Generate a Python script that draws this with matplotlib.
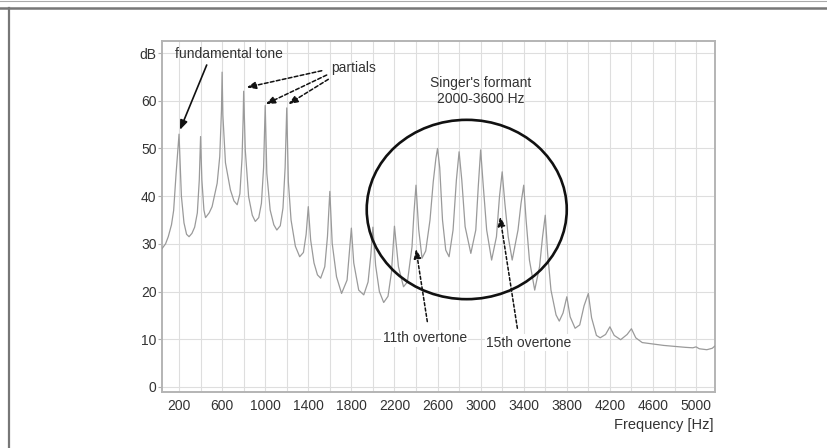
import matplotlib
matplotlib.use("Agg")
import matplotlib.pyplot as plt
from matplotlib.patches import Ellipse
from matplotlib.lines import Line2D

plt.rcParams['font.family'] = ['Liberation Sans', 'DejaVu Sans']

# spectrum trace (Hz, dB)
freq_hz = [42, 75, 100, 130, 150, 172, 190, 200, 210, 222, 246, 270, 293, 320, 345,
           370, 388, 400, 412, 431, 446, 480, 507, 554, 578, 594, 600, 607, 631, 677,
           710, 740, 765, 785, 795, 800, 815, 846, 880, 908, 940, 965, 985, 1000, 1015,
           1046, 1080, 1108, 1140, 1165, 1185, 1200, 1215, 1240, 1280, 1320, 1355, 1380,
           1400, 1422, 1453, 1485, 1515, 1553, 1578, 1600, 1622, 1662, 1709, 1760, 1781,
           1800, 1822, 1868, 1915, 1955, 1980, 2000, 2025, 2060, 2100, 2140, 2172, 2200,
           2237, 2284, 2320, 2363, 2381, 2400, 2425, 2456, 2490, 2530, 2560, 2585, 2600,
           2620, 2646, 2676, 2707, 2744, 2775, 2800, 2825, 2856, 2909, 2955, 2978, 3000,
           3025, 3056, 3102, 3147, 3175, 3200, 3225, 3256, 3293, 3347, 3375, 3400, 3422,
           3453, 3502, 3547, 3575, 3600, 3622, 3653, 3700, 3730, 3765, 3790, 3800, 3831,
           3877, 3920, 3960, 4000, 4030, 4075, 4110, 4160, 4200, 4240, 4300, 4360, 4400,
           4440, 4500, 4600, 4700, 4800, 4900, 4970, 5000, 5030, 5100, 5150, 5176]
level_db = [29.0, 30.0, 31.5, 34.0, 37.0, 44.5, 50.0, 53.0, 47.0, 40.0, 34.4, 32.0, 31.5, 32.2, 33.5,
            36.5, 43.4, 52.5, 43.4, 37.1, 35.5, 36.5, 37.8, 42.7, 48.3, 58.0, 66.0, 57.0, 47.0, 41.3,
            39.0, 38.2, 40.5, 48.0, 56.0, 62.0, 49.7, 39.9, 36.0, 34.7, 35.5, 38.5, 46.0, 59.0, 44.8,
            37.1, 34.0, 32.9, 33.8, 37.5, 46.0, 58.5, 43.0, 35.0, 29.5, 27.3, 28.2, 32.0,
            37.8, 30.8, 26.0, 23.5, 22.8, 25.2, 31.5, 41.0, 30.1, 23.1, 19.6, 22.4, 28.0,
            33.3, 26.0, 20.3, 19.3, 22.0, 27.5, 33.5, 25.5, 20.0, 17.7, 19.0, 24.0, 33.7,
            25.2, 21.0, 22.0, 29.4, 36.5, 42.3, 33.0, 27.0, 28.5, 35.0, 43.0, 48.0, 50.0,
            46.0, 35.0, 28.7, 27.3, 32.9, 43.4, 49.3, 43.4, 33.6, 28.0, 32.9, 42.0, 49.7,
            42.0, 32.9, 26.6, 31.5, 39.9, 45.1, 38.5, 31.5, 26.6, 32.9, 38.5, 42.3, 35.0,
            26.6, 20.3, 25.2, 31.5, 36.0, 28.0, 20.3, 15.1, 13.8, 15.5, 18.0, 18.9, 14.7,
            12.3, 13.0, 17.0, 19.6, 14.5, 10.8, 10.3, 11.0, 12.6, 10.8, 9.9, 11.0, 12.2,
            10.3, 9.3, 9.0, 8.7, 8.5, 8.3, 8.2, 8.4, 8.0, 7.8, 8.1, 8.6]

x_grid = list(range(200, 5001, 200))
x_ticks = list(range(200, 5001, 400))
y_ticks = [0, 10, 20, 30, 40, 50, 60, 70]
y_labels = ['0', '10', '20', '30', '40', '50', '60', 'dB']

# partial arrows: (tail Hz, tail dB, head Hz, head dB)
partial_arrows = [(1525, 66.3, 828, 62.8),
                  (1571, 65.4, 1005, 59.3),
                  (1586, 64.5, 1215, 59.3)]
# overtone arrows: (tail Hz, tail dB, head Hz, head dB)
overtone_arrows = [(2505, 13.7, 2400, 28.9),
                   (3341, 12.3, 3180, 35.7)]

HEAD = '-|>,head_length=0.55,head_width=0.22'
TXT = '#333333'

fig = plt.figure(figsize=(8.27, 4.48), dpi=100)
ax = fig.add_axes([0.1959, 0.1257, 0.6687, 0.7835])

ax.plot(freq_hz, level_db, color='#9a9a9a', lw=0.9, zorder=3)

ax.set_xlim(42, 5176)
ax.set_ylim(-1, 72.6)
ax.set_xticks(x_grid, minor=True)
ax.set_xticks(x_ticks)
ax.set_yticks(y_ticks)
ax.set_yticklabels(y_labels)
ax.grid(True, which='both', axis='x', color='#dedede', lw=0.8)
ax.grid(True, which='major', axis='y', color='#dedede', lw=0.8)
ax.set_axisbelow(True)
ax.tick_params(axis='x', which='both', length=0, pad=5, labelsize=10, labelcolor=TXT)
ax.tick_params(axis='y', length=3, width=0.8, color='#b0b0b0', pad=1,
               labelsize=10, labelcolor=TXT)
for sp in ax.spines.values():
    sp.set_color('#b4b4b4')
    sp.set_linewidth(1.4)

fig.text(713/827, 1 - 425/448, 'Frequency [Hz]', ha='right', va='center',
         fontsize=10.5, color=TXT)

# singer's formant circle
ax.add_patch(Ellipse((2871, 37.2), 1857, 37.6, fill=False, ec='#111111', lw=1.9, zorder=4))
ax.text(3004, 62.0, "Singer's formant\n2000-3600 Hz", ha='center', va='center',
        fontsize=10, color=TXT, linespacing=1.2)

# fundamental tone
ax.annotate('', xy=(209, 53.9), xytext=(457, 67.5),
            arrowprops=dict(arrowstyle=HEAD, color='#111111', lw=1.2,
                            shrinkA=0, shrinkB=0))
ax.text(165, 69.8, 'fundamental tone', fontsize=10, color=TXT, va='center', ha='left')

# partials
ax.text(1611, 66.8, 'partials', fontsize=10, color=TXT, va='center', ha='left')
for tx, ty, hx, hy in partial_arrows:
    ax.annotate('', xy=(hx, hy), xytext=(tx, ty),
                arrowprops=dict(arrowstyle=HEAD, color='#111111', lw=1.1,
                                ls=(0, (2.5, 1.5)), shrinkA=0, shrinkB=0))

# overtones
for tx, ty, hx, hy in overtone_arrows:
    ax.annotate('', xy=(hx, hy), xytext=(tx, ty),
                arrowprops=dict(arrowstyle=HEAD, color='#111111', lw=1.1,
                                ls=(0, (2, 1.5)), shrinkA=0, shrinkB=0))
ax.text(2481, 10.2, '11th overtone', fontsize=10, color=TXT, ha='center', va='center',
        bbox=dict(fc='white', ec='none', pad=1))
ax.text(3450, 9.3, '15th overtone', fontsize=10, color=TXT, ha='center', va='center',
        bbox=dict(fc='white', ec='none', pad=1))

# outer page frame
fig.add_artist(Line2D([0, 1], [1 - 8/448, 1 - 8/448], transform=fig.transFigure,
                      color='#777777', lw=1.8))
fig.add_artist(Line2D([0, 1], [1 - 1/448, 1 - 1/448], transform=fig.transFigure,
                      color='#aaaaaa', lw=0.8))
fig.add_artist(Line2D([8.5/827, 8.5/827], [0, 1 - 8/448], transform=fig.transFigure,
                      color='#777777', lw=1.6))

fig.savefig('out.png', dpi=100)
